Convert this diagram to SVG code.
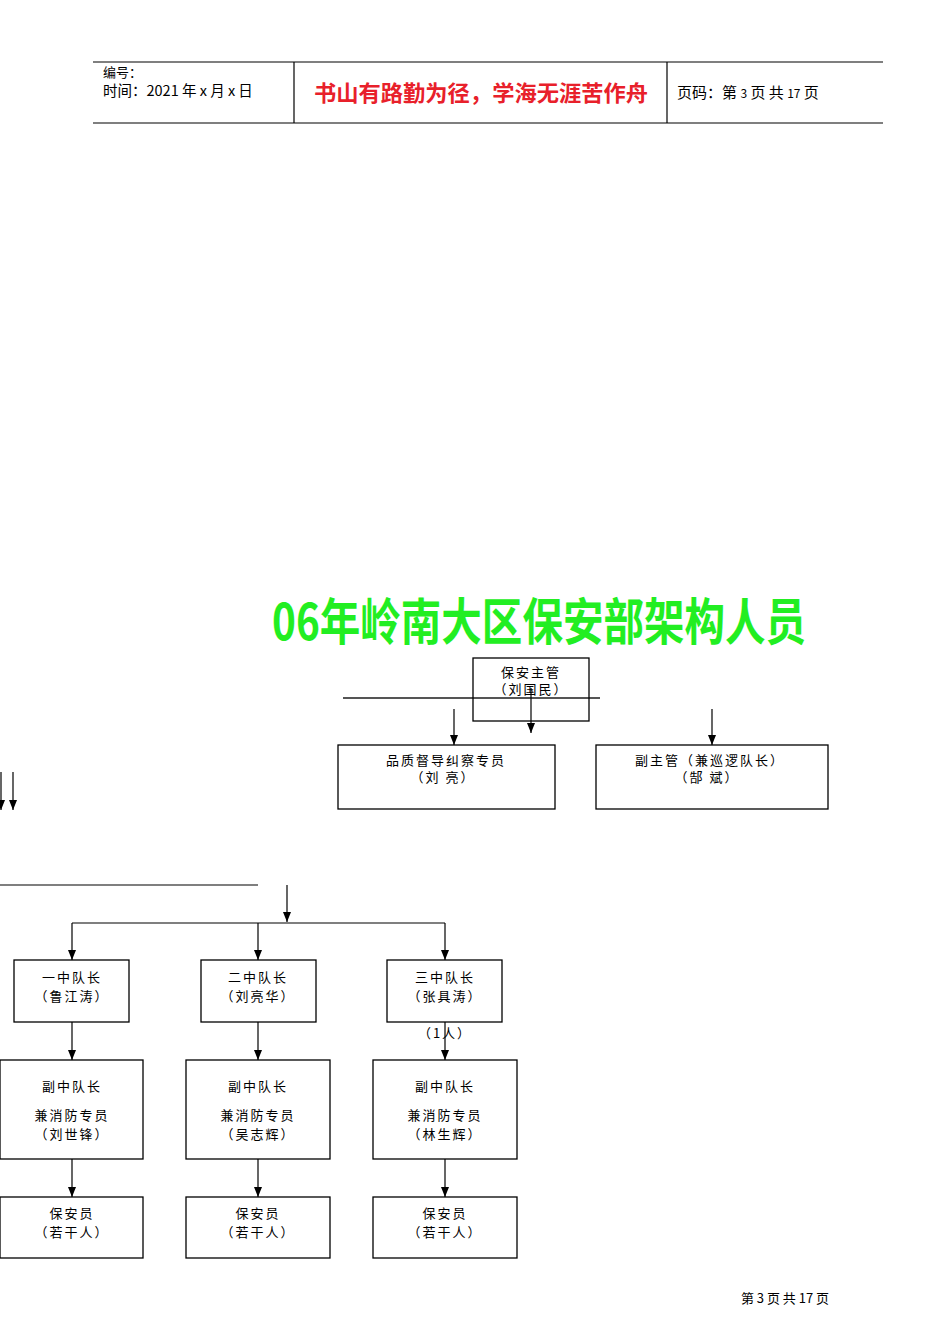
<svg xmlns="http://www.w3.org/2000/svg" width="950" height="1344" viewBox="0 0 950 1344">
<defs><marker id="ah" markerWidth="10" markerHeight="8" refX="10" refY="4" orient="auto" markerUnits="userSpaceOnUse" viewBox="0 0 10 8"><path d="M0,0 L10,4 L0,8 Z" fill="#000"/></marker></defs>
<style>
.b{fill:#fff;stroke:#000;stroke-width:1.3}
.t{font-family:"Noto Sans CJK SC","Liberation Serif",serif;font-size:13px;text-anchor:middle;fill:#000;letter-spacing:2px}
.c{stroke:#000;stroke-width:1.2;fill:none}
.a{stroke:#000;stroke-width:1.2;fill:none;marker-end:url(#ah)}
</style>
<rect width="950" height="1344" fill="#fff"/>
<g id="header">
<line x1="93" y1="62" x2="883" y2="62" class="c" stroke-width="1"/>
<line x1="93" y1="123" x2="883" y2="123" class="c" stroke-width="1"/>
<line x1="294" y1="62" x2="294" y2="123" class="c" stroke-width="1"/>
<line x1="667" y1="62" x2="667" y2="123" class="c" stroke-width="1"/>
<text x="103" y="77" font-family="Noto Sans CJK SC,sans-serif" font-size="13">编号：</text>
<text x="103" y="96" font-family="Noto Sans CJK SC,sans-serif" font-size="14.5">时间：2021 年 x 月 x 日</text>
<text x="481" y="101" text-anchor="middle" textLength="334" lengthAdjust="spacingAndGlyphs" font-family="Noto Sans CJK SC,sans-serif" font-size="22" font-weight="bold" fill="#e8202a">书山有路勤为径，学海无涯苦作舟</text>
<text x="677" y="98" font-family="Noto Sans CJK SC,sans-serif" font-size="15">页码：第 <tspan font-size="12">3</tspan> 页 共 <tspan font-size="12">17</tspan> 页</text>
</g>
<text x="272" y="640" textLength="534" lengthAdjust="spacingAndGlyphs" font-family="Noto Sans CJK SC,sans-serif" font-size="50" font-weight="bold" fill="#22ee22">06年岭南大区保安部架构人员</text>
<g id="connectors">
<line x1="343" y1="698" x2="600" y2="698" stroke="#555" stroke-width="2"/>
<line x1="531" y1="688" x2="531" y2="733" class="a"/>
<line x1="454" y1="709" x2="454" y2="745" class="a"/>
<line x1="712" y1="709" x2="712" y2="745" class="a"/>
<line x1="1" y1="772" x2="1" y2="810" class="a"/>
<line x1="13" y1="772" x2="13" y2="810" class="a"/>
<line x1="0" y1="885" x2="258" y2="885" class="c" stroke-width="1.5"/>
<line x1="287" y1="885" x2="287" y2="922" class="a"/>
<line x1="72" y1="923" x2="445" y2="923" class="c"/>
<line x1="72" y1="923" x2="72" y2="960" class="a"/>
<line x1="258" y1="923" x2="258" y2="960" class="a"/>
<line x1="445" y1="923" x2="445" y2="960" class="a"/>
<line x1="72" y1="1022" x2="72" y2="1060" class="a"/>
<line x1="258" y1="1022" x2="258" y2="1060" class="a"/>
<line x1="445" y1="1022" x2="445" y2="1060" class="a"/>
<line x1="72" y1="1159" x2="72" y2="1197" class="a"/>
<line x1="258" y1="1159" x2="258" y2="1197" class="a"/>
<line x1="445" y1="1159" x2="445" y2="1197" class="a"/>
</g>
<g id="n-zhuguan"><rect x="473" y="658" width="116" height="63" class="b" style="fill:none"/><text x="531" y="677" class="t">保安主管</text><text x="531" y="694" class="t">（刘国民）</text></g>
<g id="n-pinzhi"><rect x="338" y="745" width="217" height="64" class="b"/><text x="446" y="765" class="t">品质督导纠察专员</text><text x="443" y="782" class="t">（刘 亮）</text></g>
<g id="n-fuzhuguan"><rect x="596" y="745" width="232" height="64" class="b"/><text x="710" y="765" class="t">副主管（兼巡逻队长）</text><text x="707" y="782" class="t">（郜 斌）</text></g>
<g id="n-d1"><rect x="14" y="960" width="115" height="62" class="b"/><text x="72" y="982" class="t">一中队长</text><text x="72" y="1001" class="t">（鲁江涛）</text></g>
<g id="n-d2"><rect x="201" y="960" width="115" height="62" class="b"/><text x="258" y="982" class="t">二中队长</text><text x="258" y="1001" class="t">（刘亮华）</text></g>
<g id="n-d3"><rect x="387" y="960" width="115" height="62" class="b"/><text x="445" y="982" class="t">三中队长</text><text x="445" y="1001" class="t">（张具涛）</text></g>
<text x="445" y="1038" class="t">（1人）</text>
<g id="n-f1"><rect x="0" y="1060" width="143" height="99" class="b"/><text x="72" y="1091" class="t">副中队长</text><text x="72" y="1120" class="t">兼消防专员</text><text x="72" y="1139" class="t">（刘世锋）</text></g>
<g id="n-f2"><rect x="186" y="1060" width="144" height="99" class="b"/><text x="258" y="1091" class="t">副中队长</text><text x="258" y="1120" class="t">兼消防专员</text><text x="258" y="1139" class="t">（吴志辉）</text></g>
<g id="n-f3"><rect x="373" y="1060" width="144" height="99" class="b"/><text x="445" y="1091" class="t">副中队长</text><text x="445" y="1120" class="t">兼消防专员</text><text x="445" y="1139" class="t">（林生辉）</text></g>
<g id="n-b1"><rect x="0" y="1197" width="143" height="61" class="b"/><text x="72" y="1218" class="t">保安员</text><text x="72" y="1237" class="t">（若干人）</text></g>
<g id="n-b2"><rect x="186" y="1197" width="144" height="61" class="b"/><text x="258" y="1218" class="t">保安员</text><text x="258" y="1237" class="t">（若干人）</text></g>
<g id="n-b3"><rect x="373" y="1197" width="144" height="61" class="b"/><text x="445" y="1218" class="t">保安员</text><text x="445" y="1237" class="t">（若干人）</text></g>
<text x="785" y="1303" text-anchor="middle" font-family="Noto Sans CJK SC,serif" font-size="13">第 3 页 共 17 页</text>
</svg>
